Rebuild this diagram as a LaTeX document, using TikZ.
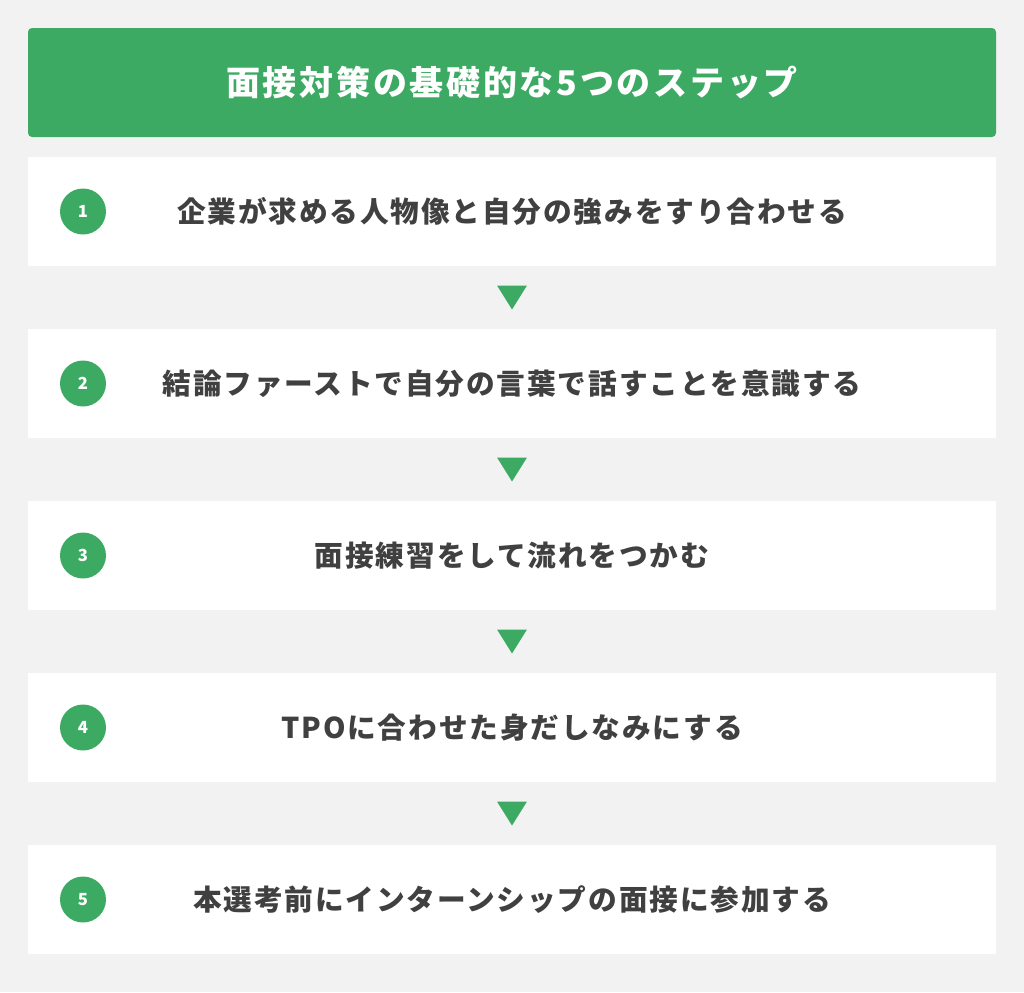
\documentclass[tikz,border=0pt]{standalone}
\usepackage{fontspec}
\usetikzlibrary{calc}
\newfontfamily\titlefont[LetterSpace=8]{Noto Sans CJK JP}
\newfontfamily\jpfont[LetterSpace=6.5]{Noto Sans CJK JP}
\newfontfamily\numfont{Noto Sans CJK JP}
\definecolor{bggray}{HTML}{F2F2F2}
\definecolor{stepgreen}{HTML}{3DAA64}
\definecolor{textgray}{HTML}{404040}
\tikzset{
  header/.style={fill=stepgreen, rounded corners=3pt, minimum width=726pt, minimum height=81.75pt, inner sep=0pt,
    font=\titlefont\bfseries\fontsize{25.5pt}{30pt}\selectfont, text=white},
  stepbox/.style={fill=white, minimum width=726pt, minimum height=81.75pt, inner sep=0pt},
  steptext/.style={font=\jpfont\bfseries\fontsize{21.5pt}{25pt}\selectfont, text=textgray, inner sep=0pt},
  numdot/.style={circle, fill=stepgreen, minimum size=34.5pt, inner sep=0pt,
    font=\numfont\bfseries\fontsize{12.5pt}{14pt}\selectfont, text=white},
  pointer/.style={fill=stepgreen}
}
\begin{document}
\begin{tikzpicture}[x=0.75pt,y=-0.75pt]
\fill[bggray] (0,0) rectangle (1024,992);
\useasboundingbox (0,0) rectangle (1024,992);
\node[header] (title) at (512,82.5) {面接対策の基礎的な5つのステップ};
\foreach \i/\y/\t in {1/211.5/企業が求める人物像と自分の強みをすり合わせる,
                      2/383.5/結論ファーストで自分の言葉で話すことを意識する,
                      3/555.5/面接練習をして流れをつかむ,
                      4/727.5/TPOに合わせた身だしなみにする,
                      5/899.5/本選考前にインターンシップの面接に参加する}{
  \node[stepbox] (b\i) at (512,\y) {};
  \node[numdot] (n\i) at (83,\y) {\i};
  \node[steptext] (t\i) at (512,\y) {\t};
}
\foreach \a/\b in {1/2,2/3,3/4,4/5}{
  \coordinate (m\a) at ($(b\a.south)!0.5!(b\b.north)$);
  \fill[pointer] (m\a) ++(-15,-12) -- ++(30,0) -- ++(-15,24) -- cycle;
}
\end{tikzpicture}
\end{document}
